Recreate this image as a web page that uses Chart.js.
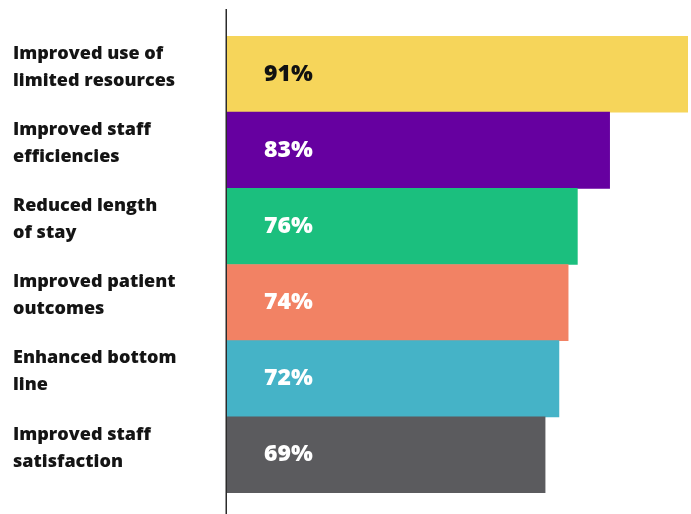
<!DOCTYPE html>
<html>
<head>
<meta charset="utf-8">
<script src="https://cdn.jsdelivr.net/npm/chart.js@4"></script>
<style>
  body { margin: 0; background: #fff; }
  #wrap { width: 691px; height: 514px; position: relative; }
</style>
</head>
<body>
<div id="wrap"><canvas id="benefitsChart"></canvas></div>
<script>
// Categories (two-line labels as in the picture)
const categories = [
  ['Improved use of', 'limited resources'],
  ['Improved staff', 'efficiencies'],
  ['Reduced length', 'of stay'],
  ['Improved patient', 'outcomes'],
  ['Enhanced bottom', 'line'],
  ['Improved staff', 'satisfaction']
];

// Bar lengths as drawn (the top bar runs to the edge of the plot)
const barLengths = [100, 83, 76, 74, 72, 69];

// Value labels printed on the bars
const valueLabels = ['91%', '83%', '76%', '74%', '72%', '69%'];

const barColors = ['#f6d55a', '#6600a0', '#1bbf7e', '#f28264', '#45b3c7', '#5b5b5e'];
const labelColors = ['#111111', '#ffffff', '#ffffff', '#ffffff', '#ffffff', '#ffffff'];

// Draws the vertical baseline and the % labels inside the bars
const barLabels = {
  id: 'barLabels',
  afterDatasetsDraw(chart) {
    const ctx = chart.ctx;
    const x0 = chart.scales.x.getPixelForValue(0);

    ctx.save();
    ctx.strokeStyle = '#2b2b2b';
    ctx.lineWidth = 1.5;
    ctx.beginPath();
    ctx.moveTo(x0 - 0.75, 9);
    ctx.lineTo(x0 - 0.75, chart.height);
    ctx.stroke();

    const meta = chart.getDatasetMeta(0);
    ctx.font = '800 23px "Open Sans"';
    ctx.textAlign = 'left';
    ctx.textBaseline = 'middle';
    meta.data.forEach((bar, i) => {
      ctx.fillStyle = labelColors[i];
      ctx.fillText(valueLabels[i], x0 + 37, bar.y);
    });
    ctx.restore();
  }
};

new Chart(document.getElementById('benefitsChart'), {
  type: 'bar',
  data: {
    labels: categories,
    datasets: [{
      data: barLengths,
      backgroundColor: barColors,
      borderWidth: 0,
      barPercentage: 1,
      categoryPercentage: 1
    }]
  },
  options: {
    indexAxis: 'y',
    responsive: true,
    maintainAspectRatio: false,
    animation: false,
    layout: {
      padding: { left: 13, top: 36, bottom: 21, right: 3 }
    },
    plugins: {
      legend: { display: false },
      tooltip: { enabled: false }
    },
    scales: {
      x: {
        display: false,
        min: 0,
        max: 100
      },
      y: {
        grid: { display: false },
        border: { display: false },
        afterFit: (scale) => {
          scale.width = 214;
          // let the bars use the full height; labels may overflow
          scale.paddingTop = 0;
          scale.paddingBottom = 0;
        },
        ticks: {
          crossAlign: 'far',
          labelOffset: -7,
          color: '#141414',
          font: { family: 'Open Sans', size: 18, weight: 800, lineHeight: 1.5 }
        }
      }
    }
  },
  plugins: [barLabels]
});
</script>
</body>
</html>
